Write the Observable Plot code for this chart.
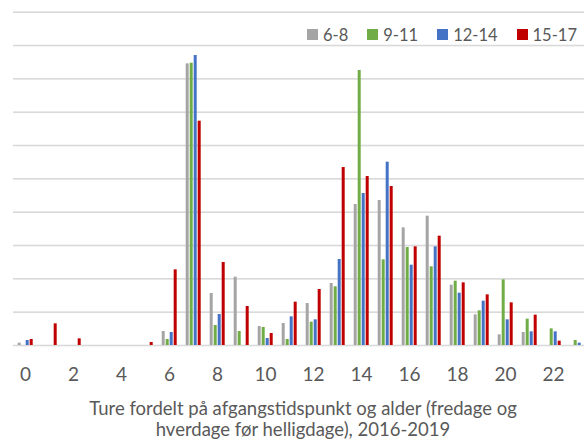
<!DOCTYPE html>
<html>
<head>
<meta charset="utf-8">
<script src="https://cdn.jsdelivr.net/npm/d3@7"></script>
<script src="https://cdn.jsdelivr.net/npm/@observablehq/plot@0.6"></script>
<style>
  body { margin: 0; background: #fff; font-family: Lato, sans-serif; }
  #wrap { position: relative; width: 584px; height: 440px; overflow: hidden; }
  #legend { position: absolute; left: 307px; top: 18px; width: 300px; }
  #legend > div { flex-wrap: nowrap !important; white-space: nowrap; }
  .lg-swatch { margin-right: 19px !important; }
  .lg-swatch > svg { margin-right: 5px !important; }
  #caption { position: absolute; left: 0; width: 606px; top: 398px; text-align: center;
             font-family: Lato, sans-serif; font-size: 18.5px; line-height: 21px; color: #595959; }
</style>
</head>
<body>
<div id="wrap">
  <div id="chart"></div>
  <div id="legend"></div>
  <div id="caption">Ture fordelt på afgangstidspunkt og alder (fredage og<br>hverdage før helligdage), 2016-2019</div>
</div>
<script>
const hours = [0,1,2,3,4,5,6,7,8,9,10,11,12,13,14,15,16,17,18,19,20,21,22,23];
const series = ["6-8", "9-11", "12-14", "15-17"];
const colors = ["#a5a5a5", "#70ad47", "#4472c4", "#c00000"];
const gridValues = [0,1,2,3,4,5,6,7,8,9,10];

const age6to8   = [0.07,0,0,0,0,0,0.42,8.45,1.56,2.05,0.57,0.66,1.26,1.86,4.23,4.35,3.53,3.88,1.81,0.92,0.32,0.39,0,0];
const age9to11  = [0,0,0,0,0,0,0.18,8.47,0.60,0.42,0.54,0.18,0.70,1.76,8.25,2.57,2.94,2.36,1.93,1.04,1.97,0.79,0.50,0.15];
const age12to14 = [0.15,0,0,0,0,0,0.39,8.70,0.93,0,0.21,0.86,0.77,2.58,4.56,5.50,2.41,2.96,1.57,1.33,0.77,0.41,0.41,0.07];
const age15to17 = [0.18,0.65,0.20,0,0,0.09,2.27,6.73,2.49,1.17,0.36,1.30,1.68,5.34,5.07,4.77,2.96,3.28,1.88,1.52,1.28,0.91,0.13,0];

const valuesBySeries = [age6to8, age9to11, age12to14, age15to17];
const rows = [];
hours.forEach((h, i) => {
  series.forEach((s, j) => rows.push({hour: h, series: s, value: valuesBySeries[j][i]}));
});

const chart = Plot.plot({
  width: 584,
  height: 392,
  marginLeft: 8.3,
  marginRight: -9.2,
  marginTop: 11.7,
  marginBottom: 47,
  style: {fontFamily: "Lato, sans-serif", fontSize: "19px", color: "#595959", background: "#fff"},
  fx: {domain: hours, paddingInner: 0.32, paddingOuter: 0.16, axis: "bottom", label: null,
       tickSize: 0, tickPadding: 22, tickFormat: d => d % 2 ? "" : String(d)},
  x: {domain: series, axis: null, paddingInner: 0.25, paddingOuter: 0},
  y: {domain: [0, 10], axis: null},
  color: {domain: series, range: colors},
  marks: [
    Plot.ruleY(gridValues, {y: d => d, stroke: "#d9d9d9", strokeWidth: 1.6, insetLeft: -4, insetRight: -4}),
    Plot.barY(rows, {fx: "hour", x: "series", y: "value", fill: "series"})
  ]
});
document.getElementById("chart").appendChild(chart);

const legend = Plot.legend({
  color: {domain: series, range: colors},
  legend: "swatches",
  className: "lg",
  swatchSize: 11,
  style: {fontFamily: "Lato, sans-serif", fontSize: "16.5px", color: "#595959"}
});
document.getElementById("legend").appendChild(legend);
</script>
</body>
</html>
